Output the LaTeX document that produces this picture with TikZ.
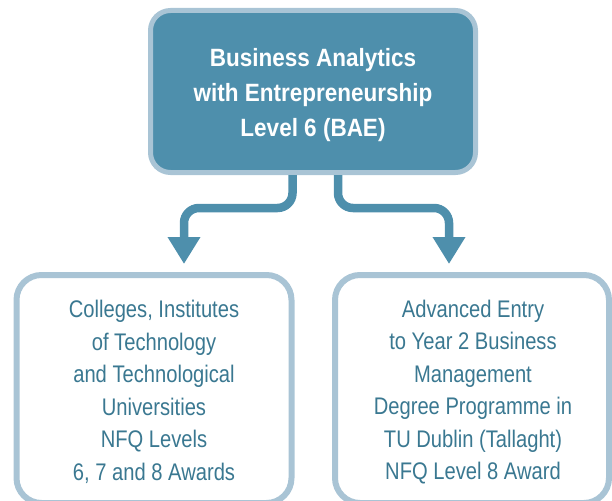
\documentclass[tikz,border=0pt]{standalone}
\usepackage{fontspec}
\setmainfont{Liberation Sans}[FakeStretch=0.84, BoldFeatures={FakeStretch=0.9}]
\usepackage{xcolor}
\usetikzlibrary{arrows.meta}
\definecolor{teal}{RGB}{78, 143, 172}
\definecolor{frame}{RGB}{169, 196, 213}
\definecolor{ink}{RGB}{58, 120, 145}

\tikzset{
  topbox/.style={draw=frame, line width=5pt, fill=teal, rounded corners=20pt,
    minimum width=325pt, minimum height=162pt},
  toptext/.style={align=center, text=white, font=\bfseries\fontsize{25}{35}\selectfont},
  pathbox/.style={draw=frame, line width=6pt, fill=white, rounded corners=25pt,
    minimum width=275pt, minimum height=228pt},
  pathtext/.style={align=center, text=ink, font=\fontsize{24}{32.5}\selectfont},
  flow/.style={draw=teal, line width=8.5pt, rounded corners=15pt,
    -{Triangle[width=31pt,length=27pt]}}
}

\begin{document}
\begin{tikzpicture}[x=1pt,y=-1pt]
\useasboundingbox (0,0) rectangle (612,500);
% Programme
\node[topbox] (bae) at (313,91.5) {};
\node[toptext] (baetext) at (313,95) {Business Analytics\\with Entrepreneurship\\Level 6 (BAE)};
% Progression routes
\node[pathbox] (colleges) at (154,389) {};
\node[pathtext] (collegestext) at (154,392) {Colleges, Institutes\\of Technology\\and Technological\\Universities\\NFQ Levels\\6, 7 and 8 Awards};
\node[pathbox, minimum width=274pt] (tud) at (472,389) {};
\node[pathtext] (tudtext) at (473,392) {Advanced Entry\\to Year 2 Business\\Management\\Degree Programme in\\TU Dublin (Tallaght)\\NFQ Level 8 Award};
% Arrows
\draw[flow] ([xshift=-20.5pt]bae.south) -- ++(0,33) -| ([xshift=30pt,yshift=8pt]colleges.north);
\draw[flow] ([xshift=25pt]bae.south) -- ++(0,33) -| ([xshift=-23pt,yshift=8pt]tud.north);
\end{tikzpicture}
\end{document}
